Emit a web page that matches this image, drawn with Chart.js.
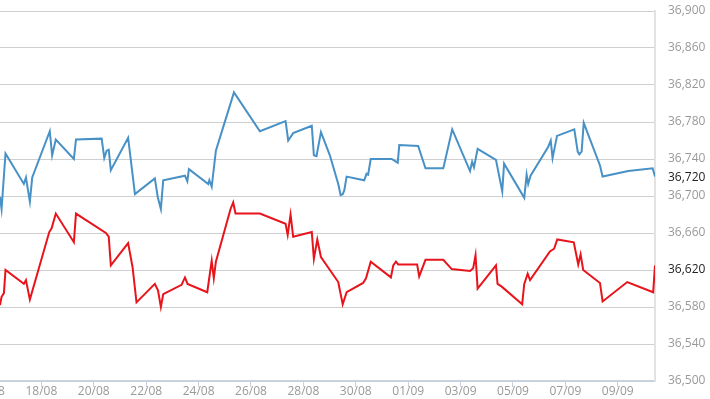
<!DOCTYPE html>
<html>
<head>
<meta charset="utf-8">
<script src="https://cdn.jsdelivr.net/npm/chart.js@4.4.1/dist/chart.umd.min.js"></script>
<style>
  html, body { margin: 0; padding: 0; background: #fff; }
  #wrap { width: 710px; height: 399px; position: relative; }
</style>
</head>
<body>
<div id="wrap"><canvas id="chart"></canvas></div>
<script>
// x values are days counted from 18/08 (0 = 18/08 00:00)
const dateTicks = [-2, 0, 2, 4, 6, 8, 10, 12, 14, 16, 18, 20, 22];
const dateLabels = ['16/08', '18/08', '20/08', '22/08', '24/08', '26/08', '28/08', '30/08', '01/09', '03/09', '05/09', '07/09', '09/09'];

const blueDays = [
    -1.58, -1.52, -1.37, -0.67, -0.59, -0.44, -0.35, 0.32, 0.41, 0.55,
    1.24, 1.32, 2.30, 2.40, 2.49, 2.57, 2.65, 3.31, 3.57, 4.33,
    4.44, 4.56, 4.65, 5.48, 5.57, 5.63, 6.37, 6.41, 6.50, 6.66,
    7.35, 8.34, 9.32, 9.42, 9.61, 10.32, 10.40, 10.50, 10.67, 11.01,
    11.33, 11.42, 11.50, 11.56, 11.65, 12.32, 12.41, 12.47, 12.57, 13.37,
    13.60, 13.66, 14.38, 14.66, 15.34, 15.68, 16.36, 16.44, 16.51, 16.65,
    17.35, 17.59, 17.66, 18.43, 18.52, 18.58, 18.67, 19.34, 19.44, 19.51,
    19.68, 20.34, 20.47, 20.53, 20.62, 20.70, 21.32, 21.42, 22.40, 23.33, 23.42
];
const blueValues = [
    36699, 36686, 36746, 36713, 36720, 36694, 36720, 36770, 36744, 36761,
    36740, 36761, 36762, 36741, 36749, 36750, 36728, 36763, 36702, 36719,
    36699, 36686, 36717, 36722, 36716, 36729, 36713, 36717, 36710, 36749,
    36812, 36770, 36781, 36760, 36768, 36776, 36744, 36743, 36769, 36744,
    36713, 36701, 36702, 36706, 36721, 36717, 36724, 36723, 36740, 36740,
    36736, 36755, 36754, 36730, 36730, 36772, 36727, 36737, 36731, 36751,
    36739, 36705, 36735, 36698, 36723, 36713, 36722, 36753, 36760, 36741,
    36765, 36772, 36748, 36745, 36748, 36779, 36733, 36721, 36727, 36730, 36721
];

const redDays = [
    -1.58, -1.52, -1.43, -1.37, -0.67, -0.59, -0.44, 0.30, 0.39, 0.55,
    1.24, 1.32, 2.46, 2.57, 2.65, 3.31, 3.48, 3.63, 4.33, 4.45,
    4.56, 4.65, 5.35, 5.48, 5.58, 6.33, 6.50, 6.58, 6.66, 7.22,
    7.32, 7.41, 8.34, 9.32, 9.40, 9.51, 9.61, 10.32, 10.40, 10.53,
    10.67, 11.33, 11.50, 11.65, 12.28, 12.39, 12.57, 13.34, 13.43, 13.53,
    13.62, 14.34, 14.42, 14.66, 15.34, 15.66, 16.36, 16.48, 16.57, 16.65,
    17.35, 17.41, 17.57, 18.35, 18.43, 18.56, 18.65, 19.41, 19.57, 19.69,
    20.32, 20.49, 20.58, 20.68, 21.32, 21.42, 22.36, 23.35, 23.42
];
const redValues = [
    36582, 36591, 36595, 36620, 36605, 36609, 36588, 36661, 36665, 36681,
    36650, 36681, 36660, 36656, 36625, 36649, 36623, 36585, 36605, 36598,
    36580, 36594, 36604, 36612, 36605, 36596, 36630, 36611, 36629, 36686,
    36693, 36681, 36681, 36670, 36658, 36680, 36656, 36661, 36632, 36653,
    36634, 36607, 36583, 36596, 36606, 36611, 36629, 36612, 36625, 36629,
    36626, 36626, 36613, 36631, 36631, 36621, 36619, 36622, 36636, 36600,
    36625, 36605, 36602, 36583, 36605, 36616, 36609, 36640, 36643, 36653,
    36650, 36626, 36637, 36620, 36606, 36586, 36607, 36596, 36625
];

// price tags shown on the axis for the latest values
const lastTags = [36720, 36620];

const FONT = "'Open Sans', 'Liberation Sans', Arial, sans-serif";

const toPoints = (xs, ys) => xs.map((x, i) => ({ x, y: ys[i] }));

// Draws the dark "last price" labels over the right axis.
const lastTagPlugin = {
    id: 'lastTags',
    afterDraw(chart) {
        const y = chart.scales.y;
        const ctx = chart.ctx;
        ctx.save();
        ctx.font = '12px ' + FONT;
        ctx.textBaseline = 'middle';
        lastTags.forEach(v => {
            const py = y.getPixelForValue(v);
            ctx.fillStyle = '#fff';
            ctx.fillRect(y.left + 4, py - 8, 50, 16);
            ctx.fillStyle = '#222';
            ctx.fillText(v.toLocaleString('en-US'), y.left + 13, py);
        });
        ctx.restore();
    },
};

new Chart(document.getElementById('chart'), {
    type: 'line',
    data: {
        datasets: [
            {
                data: toPoints(blueDays, blueValues),
                borderColor: '#4791c6',
                borderWidth: 2,
                pointRadius: 0,
                tension: 0,
            },
            {
                data: toPoints(redDays, redValues),
                borderColor: '#e8141b',
                borderWidth: 2,
                pointRadius: 0,
                tension: 0,
            },
        ],
    },
    options: {
        responsive: true,
        maintainAspectRatio: false,
        animation: false,
        layout: { padding: { top: 11, left: 0, right: 0, bottom: 0 } },
        plugins: { legend: { display: false }, tooltip: { enabled: false } },
        scales: {
            x: {
                type: 'linear',
                min: -1.58,
                max: 23.42,
                afterBuildTicks: s => { s.ticks = dateTicks.map(v => ({ value: v })); },
                // fixed height, and no extra side padding for the clipped first label
                afterFit: s => { s.height = 18; s.paddingLeft = 0; s.paddingRight = 0; },
                grid: { drawOnChartArea: false, drawTicks: true, tickLength: 6, tickColor: '#c6d3df' },
                border: { color: '#c6d3df', width: 2 },
                ticks: {
                    autoSkip: false,
                    maxRotation: 0,
                    padding: -3,
                    color: '#999',
                    font: { family: FONT, size: 12 },
                    callback: v => dateLabels[dateTicks.indexOf(v)],
                },
            },
            y: {
                position: 'right',
                min: 36500,
                max: 36900,
                afterFit: s => { s.width = 55; s.paddingTop = 0; s.paddingBottom = 0; },
                grid: { color: '#cfcfcf', lineWidth: 1, drawTicks: false },
                border: { color: '#e2e2e2', width: 2 },
                ticks: {
                    stepSize: 40,
                    padding: 13,
                    color: '#999',
                    font: { family: FONT, size: 12 },
                },
            },
        },
    },
    plugins: [lastTagPlugin],
});
</script>
</body>
</html>
